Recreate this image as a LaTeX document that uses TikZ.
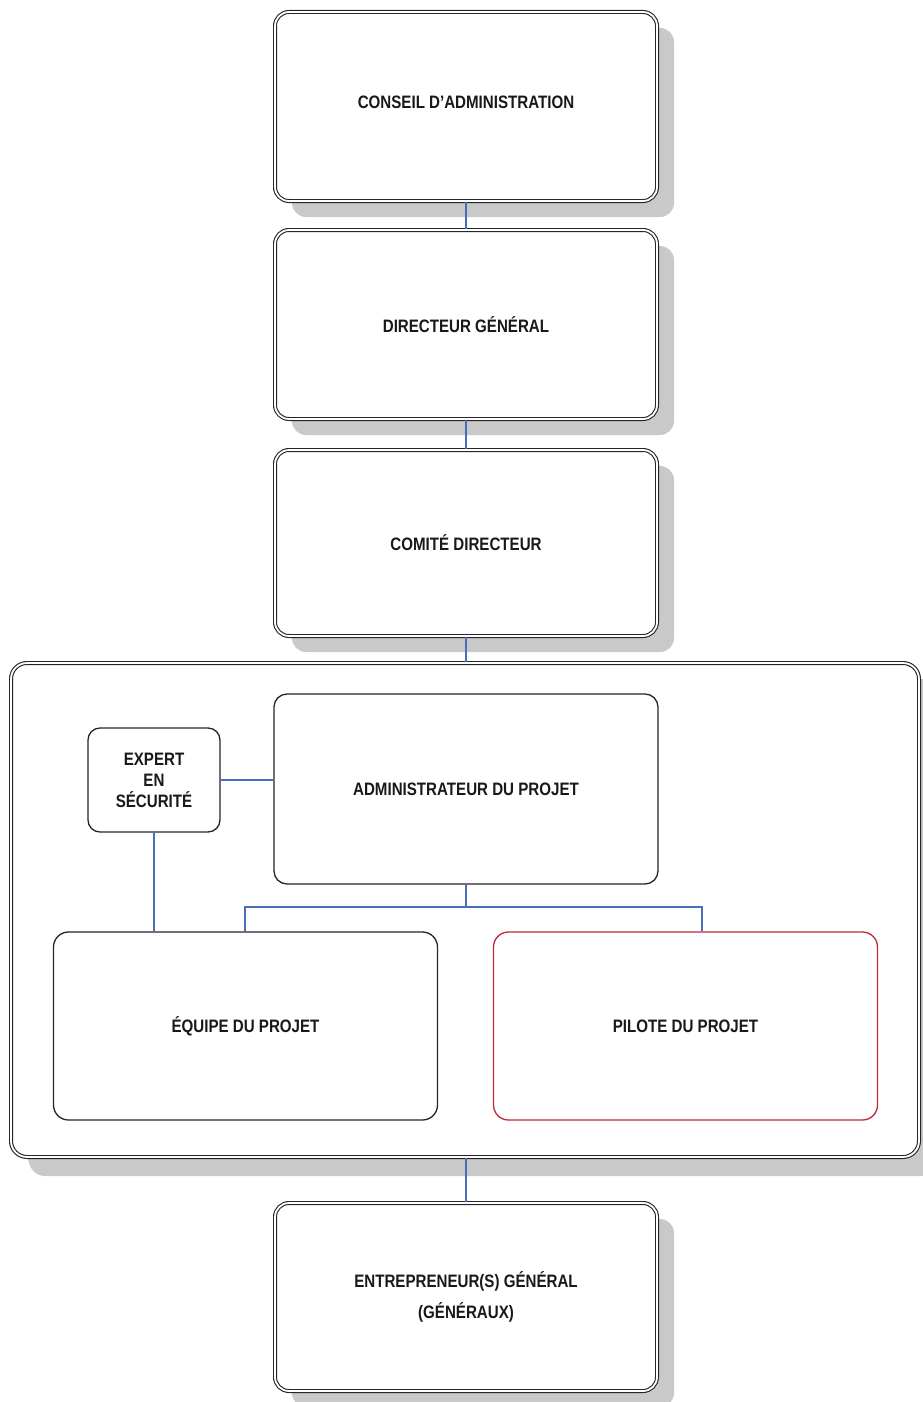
\documentclass[tikz,border=0pt]{standalone}
\usepackage{fontspec}
\newfontfamily\labfont{Liberation Sans}[FakeStretch=0.84]
\usetikzlibrary{shadows}
\definecolor{conn}{HTML}{4A6DB8}
\definecolor{shad}{HTML}{C9C9C9}
\definecolor{pilred}{HTML}{BE2A35}
\tikzset{
  lab/.style={font=\labfont\bfseries\fontsize{18}{21}\selectfont, align=center, text=black!90},
  dbox/.style={lab, rounded corners=14pt, draw=black!85, double=white, double distance=1.8pt, line width=1.1pt, fill=white,
    drop shadow={shadow xshift=17pt, shadow yshift=-16pt, fill=shad, opacity=1}},
  sbox/.style={lab, rounded corners=13pt, draw=black!85, line width=1.3pt, fill=white},
  conline/.style={draw=conn, line width=1.1pt}
}
\begin{document}
\begin{tikzpicture}[x=1pt,y=-1pt]
\useasboundingbox (0,0) rectangle (923,1402);
\begin{scope}
\clip (0,0) rectangle (923,1402);
% container
\node[dbox, rounded corners=16pt, drop shadow={shadow xshift=18pt, shadow yshift=-19pt, fill=shad, opacity=1},
  minimum width=908pt, minimum height=494pt] (cont) at (465,910) {};
\node[dbox, minimum width=382pt, minimum height=189pt] (ca) at (466,106.5) {};
\node[lab] (catext) at (466,102) {CONSEIL D’ADMINISTRATION};
\node[dbox, minimum width=382pt, minimum height=189pt] (dg) at (466,324.5) {DIRECTEUR GÉNÉRAL};
\node[dbox, minimum width=382pt, minimum height=186pt] (cd) at (466,543) {COMITÉ DIRECTEUR};
\node[dbox, minimum width=382pt, minimum height=188pt, font=\labfont\bfseries\fontsize{18}{31}\selectfont] (ent) at (466,1297) {ENTREPRENEUR(S) GÉNÉRAL\\(GÉNÉRAUX)};
\end{scope}
\node[sbox, minimum width=384pt, minimum height=190pt] (adm) at (466,789) {ADMINISTRATEUR DU PROJET};
\node[sbox, minimum width=132pt, minimum height=104pt, rounded corners=12pt] (exp) at (154,780) {EXPERT\\EN\\SÉCURITÉ};
\node[sbox, minimum width=384pt, minimum height=188pt, rounded corners=15pt] (eq) at (245.5,1026) {ÉQUIPE DU PROJET};
\node[sbox, draw=pilred, minimum width=384pt, minimum height=188pt, rounded corners=15pt] (pil) at (685.5,1026) {PILOTE DU PROJET};
% connectors
\coordinate (busL) at (245,907);
\coordinate (busR) at (702,907);
\draw[conline] (ca.south) -- (dg.north);
\draw[conline] (dg.south) -- (cd.north);
\draw[conline] (cd.south) -- (cont.north -| cd.south);
\draw[conline] (cont.south -| ent.north) -- (ent.north);
\draw[conline] (exp.east) -- (exp.east -| adm.west);
\draw[conline] (exp.south) -- (exp.south |- eq.north);
\draw[conline] (adm.south) -- (adm.south |- busL);
\draw[conline] (busL |- eq.north) -- (busL) -- (busR) -- (busR |- pil.north);
\end{tikzpicture}
\end{document}
